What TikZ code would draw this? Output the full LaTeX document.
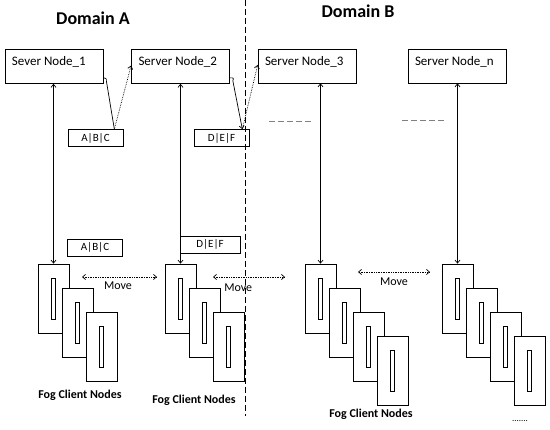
\documentclass[tikz,border=0pt]{standalone}
\usepackage{fontspec}
\setmainfont{Carlito}
\usetikzlibrary{arrows.meta,positioning}

\begin{document}
\begin{tikzpicture}[
  x=1pt,y=-1pt,
  >={Straight Barb[length=3pt,width=5pt]},
  line width=0.7pt,
  server/.style={draw,minimum width=98pt,minimum height=34pt,inner sep=0pt},
  srvlab/.style={font=\fontsize{13}{15}\selectfont,anchor=north west,inner sep=0pt},
  tag/.style={draw,minimum width=55pt,minimum height=17pt,inner sep=0pt,
    font=\fontsize{11}{13}\selectfont},
  client/.style={draw,fill=white,minimum width=31pt,minimum height=69pt,inner sep=0pt},
  slot/.style={draw,minimum width=4pt,minimum height=41pt,inner sep=0pt},
  link/.style={->},
  hop/.style={->,densely dotted},
  move/.style={<->,densely dotted},
  lab/.style={font=\fontsize{12}{14}\selectfont},
  title/.style={font=\fontsize{18}{21}\selectfont\bfseries},
  fog/.style={font=\fontsize{12}{14}\selectfont\bfseries}]

  \useasboundingbox (0,0) rectangle (550,430);

  % ---- domains ----
  \node[title] (doma) at (93,18) {Domain A};
  \node[title] (domb) at (358,11) {Domain B};
  \coordinate (cuttop) at (245,0);
  \coordinate (cutbot) at (245,416);
  \draw[dashed,line width=0.8pt,dash pattern=on 6pt off 3pt] (cuttop) -- (cutbot);

  % ---- server nodes ----
  \node[server] (s1) at (54,66.5) {};
  \node[server] (s2) at (180.5,66.5) {};
  \node[server] (s3) at (307,66) {};
  \node[server] (sn) at (457,66) {};
  \node[srvlab] at ([shift={(7,7)}]s1.north west) {Sever Node\_1};
  \node[srvlab] at ([shift={(7,7)}]s2.north west) {Server Node\_2};
  \node[srvlab] at ([shift={(7,7)}]s3.north west) {Server Node\_3};
  \node[srvlab] at ([shift={(7,7)}]sn.north west) {Server Node\_n};

  % ---- data tags ----
  \node[tag] (abc) at (95.5,138) {A|B|C};
  \node[tag] (def) at (221.5,138) {D|E|F};
  \node[tag] (abclow) at (95,247.5) {A|B|C};
  \node[tag,minimum width=60pt] (deflow) at (210,244.5) {D|E|F};

  % ---- client stacks ----
  \foreach \i in {0,1,2} {
    \node[client] (ca\i) at (53.5+24*\i,298.5+24*\i) {};
    \node[slot] at (ca\i) {};
    \node[client] (cb\i) at (180.5+24*\i,298.5+24*\i) {};
    \node[slot] at (cb\i) {};
  }
  \foreach \i in {0,1,2,3} {
    \node[client] (cc\i) at (320.5+24*\i,298.5+24*\i) {};
    \node[slot] at (cc\i) {};
    \node[client] (cd\i) at (457.5+24*\i,298.5+24*\i) {};
    \node[slot] at (cd\i) {};
  }

  % ---- server <-> client ----
  \draw[<->] (s1.south -| ca0.north) -- (ca0.north);
  \draw[<->] (s2.south -| cb0.north) -- (cb0.north);
  \draw[<->] (s3.south -| cc0.north) -- (cc0.north);
  \draw[<->] (sn.south -| cd0.north) -- (cd0.north);

  % ---- replication hops ----
  \coordinate (hopa) at ([xshift=-9pt]abc.north east);
  \coordinate (hopd) at ([xshift=-7pt]def.north east);
  \draw (s1.south east) ++(0,-6) coordinate (outa) .. controls +(4,0) and +(0,0) .. +(3,3) -- (hopa);
  \draw[hop] (hopa) -- ([yshift=1pt]s2.west);
  \draw[link] (s2.south east) ++(0,-6) .. controls +(4,0) .. +(3,3) -- (hopd);
  \draw[hop] (hopd) -- ([yshift=1pt]s3.west);

  % ---- moves ----
  \coordinate (m1l) at (82,277);
  \coordinate (m1r) at (157,277);
  \coordinate (m2l) at (213,277);
  \coordinate (m2r) at (285,277);
  \coordinate (m3l) at (358,272);
  \coordinate (m3r) at (430,272);
  \draw[move] (m1l) -- (m1r) node[lab,pos=0.48,below=1pt] (mv1) {Move};
  \draw[move] (m2l) -- (m2r) node[lab,pos=0.35,below=3pt] (mv2) {Move};
  \draw[move] (m3l) -- (m3r) node[lab,midway,below=2pt] (mv3) {Move};

  % ---- more servers ----
  \coordinate (d1l) at (269,122);
  \coordinate (d1r) at (312,122);
  \coordinate (d2l) at (402,121);
  \coordinate (d2r) at (444,121);
  \draw[gray,line width=1pt,dash pattern=on 6pt off 3pt] (d1l) -- (d1r);
  \draw[gray,line width=1pt,dash pattern=on 6pt off 3pt] (d2l) -- (d2r);

  % ---- labels ----
  \node[fog] (fog1) at (80,395) {Fog Client Nodes};
  \node[fog] (fog2) at (194,400) {Fog Client Nodes};
  \node[fog] (fog3) at (371,414) {Fog Client Nodes};
  \node[font=\fontsize{9}{10}\selectfont] (more) at (520,421) {.......};
\end{tikzpicture}
\end{document}
